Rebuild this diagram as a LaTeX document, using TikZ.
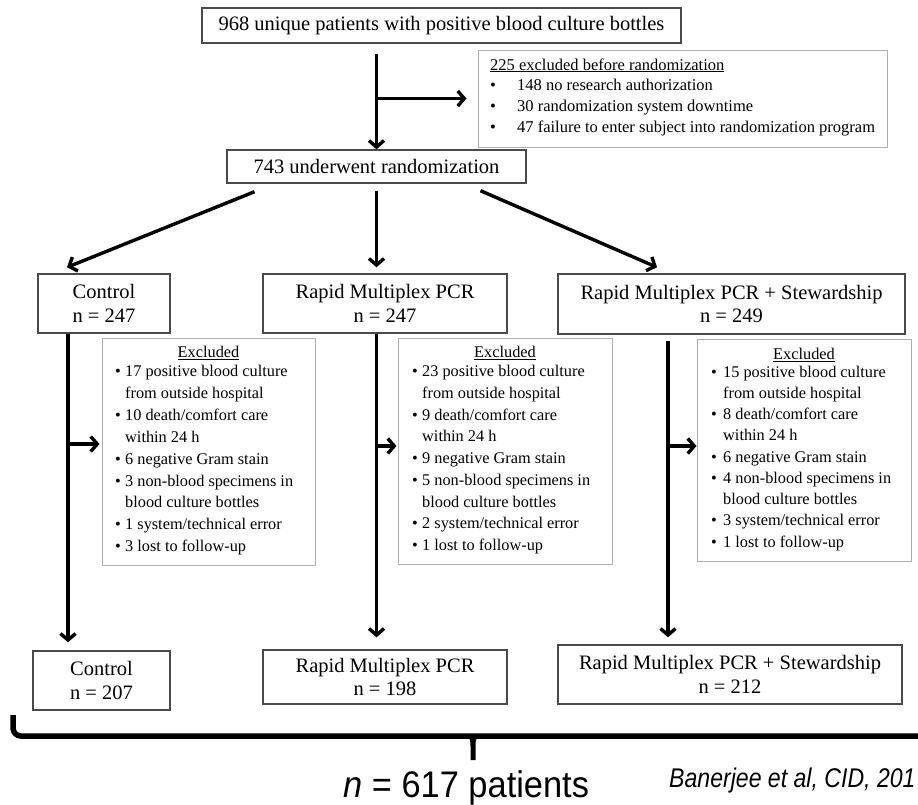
\documentclass[tikz,border=0pt]{standalone}
\usepackage{fontspec}
\setmainfont{Liberation Serif}
\newfontfamily\narrowsans[FakeStretch=0.93]{Liberation Sans}
\newfontfamily\narrowsansB[FakeStretch=0.855]{Liberation Sans}
\usetikzlibrary{arrows.meta}
\definecolor{boxgray}{HTML}{4A4A4A}
\definecolor{exgray}{HTML}{B0B0B0}
\newcommand{\myb}[2]{\makebox[#1][l]{•}#2}
\newcommand{\myc}[2]{\hspace*{#1}#2}
\begin{document}
\begin{tikzpicture}[x=1pt,y=-1pt,
  box/.style={draw=boxgray, line width=1.4pt, inner sep=0pt, align=center,
    font=\fontsize{20.5}{23.5}\selectfont},
  exbox/.style={draw=exgray, line width=1pt, inner sep=0pt},
  extext/.style={anchor=base west, inner sep=0pt},
  exhead/.style={anchor=base, inner sep=0pt, font=\fontsize{16.3}{20}\selectfont},
  arr/.style={line width=3.4pt, -{Straight Barb[length=6.5pt,width=15pt]}}]
\fill[white] (0,0) rectangle (918,804);
\useasboundingbox (0,0) rectangle (918,804);

% top level
\node[box, minimum width=479pt, minimum height=35pt] (top) at (441.5,25.5)
  {968 unique patients with positive blood culture bottles};
\node[exbox, minimum width=409pt, minimum height=97pt] (exc0) at (682.5,98.5) {};
\node[extext, font=\fontsize{16.5}{20.7}\selectfont] (exc0t) at (490,70)
  {\begin{tabular}[t]{@{}l@{}}
   \underline{225 excluded before randomization}\\
   \myb{27pt}{148 no research authorization}\\
   \myb{27pt}{30 randomization system downtime}\\
   \myb{27pt}{47 failure to enter subject into randomization program}
   \end{tabular}};
\node[box, minimum width=299pt, minimum height=33pt] (rand) at (376.5,166.5)
  {743 underwent randomization};

% arms
\node[box, minimum width=132pt, minimum height=59pt] (ctl) at (104,303.5)
  {Control\\ n = 247};
\node[box, minimum width=244pt, minimum height=59pt] (pcr) at (385,303.5)
  {Rapid Multiplex PCR\\ n = 247};
\node[box, minimum width=347pt, minimum height=60pt] (stw) at (731.5,304)
  {Rapid Multiplex PCR + Stewardship\\ n = 249};

% excluded boxes
\node[exbox, minimum width=213pt, minimum height=227pt] (cex) at (208.5,451.5) {};
\node[exhead] (cexh) at (208.5,357.5) {\underline{Excluded}};
\node[extext, font=\fontsize{16.3}{21.9}\selectfont] (cexl) at (115,376.5)
  {\begin{tabular}[t]{@{}l@{}}
   \myb{10pt}{17 positive blood culture}\\
   \myc{10pt}{from outside hospital}\\
   \myb{10pt}{10 death/comfort care}\\
   \myc{10pt}{within 24 h}\\
   \myb{10pt}{6 negative Gram stain}\\
   \myb{10pt}{3 non-blood specimens in}\\
   \myc{10pt}{blood culture bottles}\\
   \myb{10pt}{1 system/technical error}\\
   \myb{10pt}{3 lost to follow-up}
   \end{tabular}};

\node[exbox, minimum width=214pt, minimum height=226pt] (pex) at (505,451) {};
\node[exhead] (pexh) at (505,357.5) {\underline{Excluded}};
\node[extext, font=\fontsize{16.3}{21.75}\selectfont] (pexl) at (412,376.5)
  {\begin{tabular}[t]{@{}l@{}}
   \myb{10pt}{23 positive blood culture}\\
   \myc{10pt}{from outside hospital}\\
   \myb{10pt}{9 death/comfort care}\\
   \myc{10pt}{within 24 h}\\
   \myb{10pt}{9 negative Gram stain}\\
   \myb{10pt}{5 non-blood specimens in}\\
   \myc{10pt}{blood culture bottles}\\
   \myb{10pt}{2 system/technical error}\\
   \myb{10pt}{1 lost to follow-up}
   \end{tabular}};

\node[exbox, minimum width=214pt, minimum height=222pt] (sex) at (804,450) {};
\node[exhead] (sexh) at (804,359.5) {\underline{Excluded}};
\node[extext, font=\fontsize{16.3}{21.25}\selectfont] (sexl) at (711,377)
  {\begin{tabular}[t]{@{}l@{}}
   \myb{12pt}{15 positive blood culture}\\
   \myc{12pt}{from outside hospital}\\
   \myb{12pt}{8 death/comfort care}\\
   \myc{12pt}{within 24 h}\\
   \myb{12pt}{6 negative Gram stain}\\
   \myb{12pt}{4 non-blood specimens in}\\
   \myc{12pt}{blood culture bottles}\\
   \myb{12pt}{3 system/technical error}\\
   \myb{12pt}{1 lost to follow-up}
   \end{tabular}};

% final boxes
\node[box, minimum width=137pt, minimum height=59pt] (ctl2) at (101.5,680.5)
  {Control\\ n = 207};
\node[box, minimum width=244pt, minimum height=54pt] (pcr2) at (385,677)
  {Rapid Multiplex PCR\\ n = 198};
\node[box, minimum width=344pt, minimum height=59pt] (stw2) at (730,674.5)
  {Rapid Multiplex PCR + Stewardship\\ n = 212};

% connectors
\draw[arr] ([yshift=-10pt]top.south -| rand.north) -- (rand.north);
\draw[arr] (rand.north |- exc0.west) -- ([xshift=-11pt]exc0.west);
\draw[arr] ([xshift=-122pt,yshift=-8pt]rand.south) -- ([xshift=-37pt,yshift=6pt]ctl.north);
\draw[arr] ([yshift=-7pt]rand.south) -- ([yshift=6pt]rand.south |- pcr.north);
\draw[arr] ([xshift=104pt,yshift=-7pt]rand.south) -- ([xshift=-74.5pt,yshift=6pt]stw.north);

\coordinate (cv) at ([xshift=-36pt]ctl.south);
\coordinate (cb) at ([yshift=7.5pt]cex.west);
\draw[arr] (cv) -- ([yshift=8pt]cv |- ctl2.north);
\draw[arr] (cv |- cb) -- ([xshift=-2pt]cb);

\coordinate (pv) at (rand.south |- pcr.south);
\coordinate (pb) at ([yshift=5pt]pex.west);
\draw[arr] (pv) -- ([yshift=12pt]pv |- pcr2.north);
\draw[arr] (pv |- pb) -- ([xshift=-1pt]pb);

\coordinate (sv) at ([xshift=-63.5pt,yshift=-6pt]stw.south);
\coordinate (sb) at ([yshift=4pt]sex.west);
\draw[arr] (sv) -- ([yshift=7pt]sv |- stw2.north);
\draw[arr] (sv |- sb) -- (sb);

% brace
\draw[line width=5.5pt, rounded corners=8pt] (13,715) -- (13,736) -- (918,736);
\fill (462,734) .. controls (470,735) and (470.5,740) .. (470.5,746) -- (470.5,760)
  -- (475.5,760) -- (475.5,746) .. controls (475.5,740) and (476,735) .. (484,734) -- cycle;

\node[anchor=base west, inner sep=0pt, font=\narrowsans\fontsize{37}{40}\selectfont] (tot) at (343,797)
  {\textit{n} = 617 patients};
\node[anchor=base west, inner sep=0pt, font=\narrowsansB\itshape\fontsize{27}{30}\selectfont] (ref) at (669,787)
  {Banerjee et al, CID, 201};
\end{tikzpicture}
\end{document}
